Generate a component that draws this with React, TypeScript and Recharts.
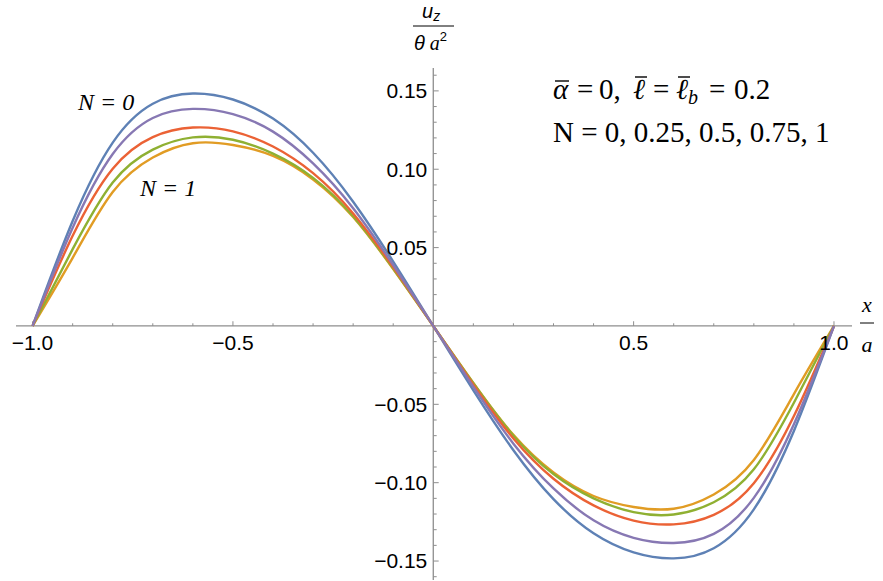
import React from "react";
import {
  Customized,
  Line,
  LineChart,
  ReferenceLine,
  XAxis,
  YAxis
} from "recharts";

// x / a positions
const xs = [
  -1, -0.9, -0.8, -0.7, -0.6, -0.5, -0.4, -0.3, -0.2, -0.1, 0,
  0.1, 0.2, 0.3, 0.4, 0.5, 0.6, 0.7, 0.8, 0.9, 1
];

// u_z / (theta a^2) for N = 0, 0.25, 0.5, 0.75, 1
const n000 = [
  0, 0.067, 0.117, 0.1418, 0.1483, 0.1445, 0.1323, 0.1105, 0.0793, 0.0411, 0,
  -0.0411, -0.0793, -0.1105, -0.1323, -0.1445, -0.1483, -0.1418, -0.117, -0.067, 0
];
const n025 = [
  0, 0.0627, 0.1097, 0.1327, 0.1385, 0.1352, 0.124, 0.1037, 0.0751, 0.0389, 0,
  -0.0389, -0.0751, -0.1037, -0.124, -0.1352, -0.1385, -0.1327, -0.1097, -0.0627, 0
];
const n050 = [
  0, 0.0575, 0.1003, 0.1205, 0.1266, 0.1242, 0.1145, 0.0975, 0.0718, 0.0375, 0,
  -0.0375, -0.0718, -0.0975, -0.1145, -0.1242, -0.1266, -0.1205, -0.1003, -0.0575, 0
];
const n075 = [
  0, 0.049, 0.0915, 0.1125, 0.1203, 0.1188, 0.11, 0.0945, 0.07, 0.0366, 0,
  -0.0366, -0.07, -0.0945, -0.11, -0.1188, -0.1203, -0.1125, -0.0915, -0.049, 0
];
const n100 = [
  0, 0.0435, 0.0855, 0.1075, 0.1166, 0.1155, 0.1085, 0.0935, 0.0695, 0.0363, 0,
  -0.0363, -0.0695, -0.0935, -0.1085, -0.1155, -0.1166, -0.1075, -0.0855, -0.0435, 0
];

const xMajorTicks = [-1, -0.5, 0.5, 1];
const xMinorTicks = [-0.9, -0.8, -0.7, -0.6, -0.4, -0.3, -0.2, -0.1, 0.1, 0.2, 0.3, 0.4, 0.6, 0.7, 0.8, 0.9];
const yMajorTicks = [-0.15, -0.1, -0.05, 0.05, 0.1, 0.15];
const yMinorTicks = [
  -0.16, -0.14, -0.13, -0.12, -0.11, -0.09, -0.08, -0.07, -0.06, -0.04, -0.03, -0.02, -0.01,
  0.01, 0.02, 0.03, 0.04, 0.06, 0.07, 0.08, 0.09, 0.11, 0.12, 0.13, 0.14, 0.16
];

const data = xs.map((x, i) => ({
  x,
  n000: n000[i],
  n025: n025[i],
  n050: n050[i],
  n075: n075[i],
  n100: n100[i]
}));

const AXIS = "#8e8e8e";
const SANS = "'Liberation Sans', Arial, sans-serif";
const SERIF = "'Liberation Serif', 'Times New Roman', serif";

const minus = (s: string) => s.replace("-", "\u2212");

function Annotations() {
  return (
    <g fill="#000">
      <text x={78} y={110} fontFamily={SERIF} fontStyle="italic" fontSize={24}>
        N = 0
      </text>
      <text x={140} y={196} fontFamily={SERIF} fontStyle="italic" fontSize={24}>
        N = 1
      </text>

      {/* parameter line */}
      <text y={99} fontFamily={SERIF} fontSize={29}>
        <tspan x={553} fontStyle="italic">{"\u03B1"}</tspan>
        <tspan x={577}>=</tspan>
        <tspan x={599}>0,</tspan>
        <tspan x={633} fontStyle="italic">{"\u2113"}</tspan>
        <tspan x={653}>=</tspan>
        <tspan x={676} fontStyle="italic">{"\u2113"}</tspan>
        <tspan x={688} fontStyle="italic" fontSize={20} dy={5}>b</tspan>
        <tspan x={709} dy={-5}>=</tspan>
        <tspan x={734}>0.2</tspan>
      </text>
      <line x1={555} y1={81} x2={569} y2={81} stroke="#000" strokeWidth={1.4} />
      <line x1={635} y1={77} x2={647} y2={77} stroke="#000" strokeWidth={1.4} />
      <line x1={678} y1={77} x2={690} y2={77} stroke="#000" strokeWidth={1.4} />

      <text x={553} y={142} fontFamily={SERIF} fontSize={29}>
        N = 0, 0.25, 0.5, 0.75, 1
      </text>

      {/* y axis label */}
      <text x={422} y={18} fontFamily={SANS} fontStyle="italic" fontSize={20}>
        u<tspan fontSize={14} dy={3}>z</tspan>
      </text>
      <line x1={413} y1={26} x2={454} y2={26} stroke="#000" strokeWidth={1} />
      <text x={414} y={50} fontSize={20}>
        <tspan fontFamily={SANS} fontStyle="italic">{"\u03B8"}</tspan>
        <tspan fontFamily={SERIF} fontStyle="italic">{" a"}</tspan>
        <tspan fontFamily={SANS} fontSize={13} dy={-9}>2</tspan>
      </text>

      {/* x axis label */}
      <text x={867} y={312} textAnchor="middle" fontFamily={SERIF} fontStyle="italic" fontSize={22}>
        x
      </text>
      <line x1={860} y1={323} x2={874} y2={323} stroke="#000" strokeWidth={1} />
      <text x={867} y={352} textAnchor="middle" fontFamily={SERIF} fontStyle="italic" fontSize={22}>
        a
      </text>
    </g>
  );
}

export default function App() {
  const labelStyle = { fill: "#000", fontSize: 21, fontFamily: SANS };
  return (
    <div style={{ position: "absolute", left: 0, top: 0, width: 883, height: 581, background: "#fff" }}>
      <LineChart
        width={883}
        height={581}
        data={data}
        margin={{ top: 68, right: 31, bottom: 1, left: 16 }}
      >
        <XAxis dataKey="x" type="number" domain={[-1.0414, 1.045]} allowDataOverflow hide />
        <YAxis type="number" domain={[-0.1621, 0.1646]} allowDataOverflow hide />

        <ReferenceLine y={0} stroke={AXIS} strokeWidth={1.3} />
        <ReferenceLine x={0} stroke={AXIS} strokeWidth={1.3} />

        {xMinorTicks.map((v) => (
          <ReferenceLine
            key={`xm${v}`}
            segment={[{ x: v, y: 0 }, { x: v, y: 0.0017 }]}
            stroke={AXIS}
            strokeWidth={1}
          />
        ))}
        {xMajorTicks.map((v) => (
          <ReferenceLine
            key={`xM${v}`}
            segment={[{ x: v, y: 0 }, { x: v, y: 0.003 }]}
            stroke={AXIS}
            strokeWidth={1}
            label={{ value: minus(v.toFixed(1)), position: "bottom", offset: 9, ...labelStyle }}
          />
        ))}
        {yMinorTicks.map((v) => (
          <ReferenceLine
            key={`ym${v}`}
            segment={[{ x: 0, y: v }, { x: 0.0085, y: v }]}
            stroke={AXIS}
            strokeWidth={1}
          />
        ))}
        {yMajorTicks.map((v) => (
          <ReferenceLine
            key={`yM${v}`}
            segment={[{ x: 0, y: v }, { x: 0.0135, y: v }]}
            stroke={AXIS}
            strokeWidth={1}
            label={{ value: minus(v.toFixed(2)), position: "left", offset: 6, ...labelStyle }}
          />
        ))}

        <Line type="natural" dataKey="n000" stroke="#5e81b5" strokeWidth={2.4} dot={false} isAnimationActive={false} />
        <Line type="natural" dataKey="n100" stroke="#e19c24" strokeWidth={2.4} dot={false} isAnimationActive={false} />
        <Line type="natural" dataKey="n075" stroke="#8fb032" strokeWidth={2.4} dot={false} isAnimationActive={false} />
        <Line type="natural" dataKey="n050" stroke="#eb6235" strokeWidth={2.4} dot={false} isAnimationActive={false} />
        <Line type="natural" dataKey="n025" stroke="#8778b3" strokeWidth={2.4} dot={false} isAnimationActive={false} />

        <Customized component={<Annotations />} />
      </LineChart>
    </div>
  );
}
